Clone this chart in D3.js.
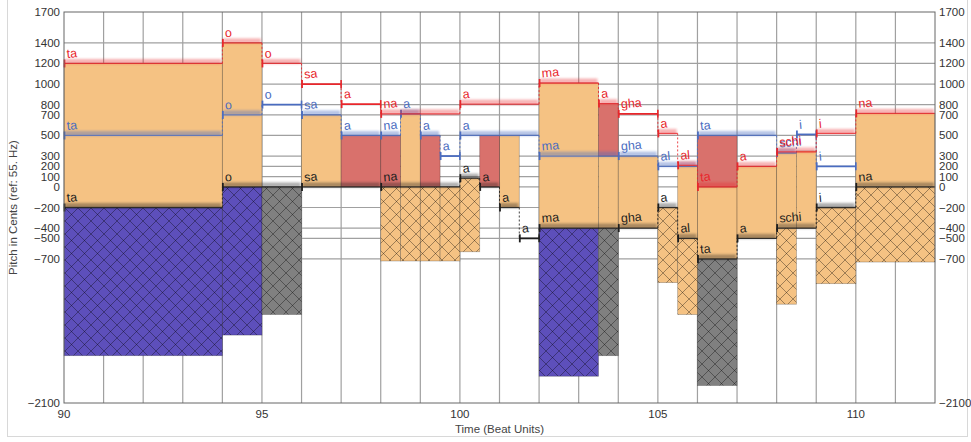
<!DOCTYPE html>
<html><head><meta charset="utf-8">
<script src="https://cdn.jsdelivr.net/npm/d3@7/dist/d3.min.js"></script>
<style>body{margin:0;background:#fff}svg{display:block;font-family:"Liberation Sans",Arial,sans-serif}</style>
</head><body>
<svg id="c" width="971" height="442"></svg>
<script>
// ---- data ----
const xTicks = [90, 95, 100, 105, 110];
const yTicks = [1700, 1400, 1200, 1000, 800, 700, 500, 300, 200, 100, 0, -200, -400, -500, -700, -2100];
// tiers: [start, end, level, syllable, style]
const redTier = [
  [90,94,1200,"ta","soft"],[94,95,1400,"o","soft"],[95,96,1200,"o","soft"],[96,97,1000,"sa","solid"],
  [97,98,805,"a","solid"],[98,100,710,"na","soft"],[100,102,805,"a","soft"],[102,103.5,1010,"ma","soft"],
  [103.5,104,810,"a","soft"],[104,105,710,"gha","solid"],[105,105.5,520,"a","soft"],[105.5,106,210,"al","soft"],
  [106,107,0,"ta","soft"],[107,108,200,"a","soft"],[108,109,340,"schi","soft"],[109,110,520,"i","soft"],
  [110,112,715,"na","soft"]
];
const blueTier = [
  [90,94,500,"ta","soft"],[94,95,700,"o","soft"],[95,96,800,"o","solid"],[96,97,700,"sa","soft"],
  [97,98,500,"a","soft"],[98,98.5,500,"na","soft"],[98.5,99,710,"a","soft"],[99,99.5,500,"a","soft"],
  [99.5,100,300,"a","solid"],[100,102,500,"a","soft"],[102,104,300,"ma","soft"],[104,105,300,"gha","soft"],
  [105,106,200,"al","soft"],[106,108,500,"ta","soft"],[108,108.5,330,"schi","soft"],[108.5,109,510,"i","solid"],
  [109,110,200,"i","solid"]
];
const blackTier = [
  [90,94,-200,"ta","soft"],[94,96,0,"o","soft"],[96,98,0,"sa","soft"],[98,100,0,"na","soft"],
  [100,100.5,85,"a","soft"],[100.5,101,0,"a","soft"],[101,101.5,-200,"a","soft"],[101.5,102,-500,"a","solid"],
  [102,104,-400,"ma","soft"],[104,105,-400,"gha","soft"],[105,105.5,-200,"a","soft"],[105.5,106,-500,"al","soft"],
  [106,107,-700,"ta","soft"],[107,108,-500,"a","soft"],[108,109,-400,"schi","soft"],[109,110,-200,"i","soft"],
  [110,112,0,"na","soft"]
];
// fills: [start, end, low, high]
const orangeFills = [
  [90,94,-200,1200],[94,95,0,1400],[96,97,0,700],[98.5,99,0,710],[101,101.5,-200,500],
  [102,103.5,-400,1010],[103.5,104,-400,300],[104,105,-400,300],[105.5,106,-500,200],[106,107,-700,0],
  [107,108,-500,200],[108,108.5,-400,330],[108.5,109,-400,350],[110,112,0,715]
];
const redFills = [[97,98,0,500],[98,98.5,0,500],[99,99.5,0,500],[100.5,101,0,500],[103.5,104,300,810],[106,107,0,500]];
// hatched: [start, end, low, high]
const purpleHatch = [[90,94,-1640,-200],[94,95,-1440,0],[102,103.5,-1840,-400]];
const grayHatch = [[95,96,-1240,0],[103.5,104,-1640,-400],[106,107,-1930,-700]];
const orangeHatch = [
  [98,98.5,-720,0],[98.5,99,-720,0],[99,99.5,-720,0],[99.5,100,-720,0],[100,100.5,-630,85],
  [105,105.5,-930,-200],[105.5,106,-1240,-500],[108,108.5,-1140,-400],[109,110,-940,-200],[110,112,-730,0]
];

// ---- drawing ----
const svg = d3.select("#c");
const x = d3.scaleLinear().domain([90,112]).range([64,935]);
const y = d3.scaleLinear().domain([-2100,1700]).range([403,12]);
const C = {red:"#e8262b", blue:"#4a6cc0", black:"#1e1e1e", orange:"#f5c283", redFill:"#d9716c", purple:"#5d4fbb", gray:"#808080"};

const defs = svg.append("defs");
function hatch(id, bg){
  const p = defs.append("pattern").attr("id",id).attr("patternUnits","userSpaceOnUse")
    .attr("width",13).attr("height",13);
  p.append("rect").attr("width",13).attr("height",13).attr("fill",bg);
  p.append("path").attr("d","M0,0L13,13M13,0L0,13M-1,12L1,14M12,-1L14,1")
    .attr("stroke","rgba(0,0,0,0.45)").attr("stroke-width",0.8).attr("fill","none");
}
hatch("hp", C.purple); hatch("hg", C.gray); hatch("ho", C.orange);
defs.append("filter").attr("id","blur").attr("filterUnits","userSpaceOnUse")
  .attr("x",0).attr("y",0).attr("width",971).attr("height",442)
  .append("feGaussianBlur").attr("stdDeviation",1.3);

// outer frame
svg.append("rect").attr("x",7.5).attr("y",-1).attr("width",960).attr("height",437.5)
  .attr("fill","none").attr("stroke","#d8d8d8");

// grid
const g = svg.append("g");
g.selectAll(".vg").data(d3.range(91,112)).join("line")
  .attr("x1",d=>x(d)).attr("x2",d=>x(d)).attr("y1",y(1700)).attr("y2",y(-2100))
  .attr("stroke","#a0a0a0").attr("stroke-width",1.2);
g.selectAll(".hg").data(yTicks.filter(d=>d!==1700&&d!==-2100)).join("line")
  .attr("x1",x(90)).attr("x2",x(112)).attr("y1",d=>y(d)).attr("y2",d=>y(d))
  .attr("stroke","#a0a0a0").attr("stroke-width",1.2);

function rects(data, fill){
  svg.append("g").selectAll("rect").data(data).join("rect")
    .attr("x",d=>x(d[0])).attr("width",d=>x(d[1])-x(d[0]))
    .attr("y",d=>y(d[3])).attr("height",d=>y(d[2])-y(d[3]))
    .attr("fill",fill).attr("stroke","rgba(0,0,0,0.28)").attr("stroke-width",0.8);
}
rects(purpleHatch,"url(#hp)");
rects(grayHatch,"url(#hg)");
rects(orangeHatch,"url(#ho)");
rects(orangeFills,C.orange);
rects(redFills,C.redFill);

// tier lines
function tier(data, color, bandOp){
  const tg = svg.append("g");
  for(let i=0;i<data.length-1;i++){
    const a=data[i], b=data[i+1];
    if(a[1]===b[0] && a[2]!==b[2]){
      tg.append("line").attr("x1",x(a[1])).attr("x2",x(a[1])).attr("y1",y(a[2])).attr("y2",y(b[2]))
        .attr("stroke",color).attr("stroke-width",1).attr("stroke-dasharray","2,2").attr("opacity",0.85);
    }
  }
  const soft = data.filter(d=>d[4]==="soft");
  tg.selectAll(".sb").data(soft).join("rect")
    .attr("x",d=>x(d[0])+1).attr("width",d=>x(d[1])-x(d[0])-2)
    .attr("y",d=>y(d[2])-4.5).attr("height",5)
    .attr("fill",color).attr("opacity",bandOp).attr("filter","url(#blur)");
  tg.selectAll(".sl").data(soft).join("line")
    .attr("x1",d=>x(d[0])).attr("x2",d=>x(d[1])).attr("y1",d=>y(d[2])).attr("y2",d=>y(d[2]))
    .attr("stroke",color).attr("stroke-width",1.3).attr("opacity",0.8);
  const solid = data.filter(d=>d[4]==="solid");
  tg.selectAll(".hl").data(solid).join("line")
    .attr("x1",d=>x(d[0])).attr("x2",d=>x(d[1])).attr("y1",d=>y(d[2])).attr("y2",d=>y(d[2]))
    .attr("stroke",color).attr("stroke-width",1.8);
  tg.selectAll(".et").data(solid).join("line")
    .attr("x1",d=>x(d[1])).attr("x2",d=>x(d[1])).attr("y1",d=>y(d[2])-4).attr("y2",d=>y(d[2])+4)
    .attr("stroke",color).attr("stroke-width",1.6);
  tg.selectAll(".st").data(data).join("line")
    .attr("x1",d=>x(d[0])+0.5).attr("x2",d=>x(d[0])+0.5).attr("y1",d=>y(d[2])-4).attr("y2",d=>y(d[2])+4)
    .attr("stroke",color).attr("stroke-width",1.8);
  tg.selectAll("text").data(data).join("text")
    .attr("transform",d=>`translate(${x(d[0])+3},${y(d[2])-5.5}) rotate(-5)`)
    .attr("font-size",12.5).attr("fill",color).text(d=>d[3]);
}
tier(blackTier, C.black, 0.35);
tier(blueTier, C.blue, 0.4);
tier(redTier, C.red, 0.35);

// frame
svg.append("rect").attr("x",x(90)).attr("y",y(1700)).attr("width",x(112)-x(90)).attr("height",y(-2100)-y(1700))
  .attr("fill","none").attr("stroke","#666").attr("stroke-width",1);

// axes labels
const ax = svg.append("g").attr("font-size",11.5).attr("fill","#333");
ax.selectAll(".yl").data(yTicks).join("text").attr("x",60).attr("y",d=>y(d)).attr("dy","0.35em")
  .attr("text-anchor","end").text(d=>d<0?"\u2212"+(-d):d);
ax.selectAll(".yr").data(yTicks).join("text").attr("x",939).attr("y",d=>y(d)).attr("dy","0.35em")
  .attr("text-anchor","start").text(d=>d<0?"\u2212"+(-d):d);
ax.selectAll(".xl").data(xTicks).join("text").attr("x",d=>x(d)).attr("y",418)
  .attr("text-anchor","middle").text(d=>d);
svg.append("text").attr("x",(x(90)+x(112))/2).attr("y",433).attr("text-anchor","middle")
  .attr("font-size",11.5).attr("fill","#444").text("Time (Beat Units)");
svg.append("text").attr("transform",`translate(17,${(y(1700)+y(-2100))/2}) rotate(-90)`).attr("text-anchor","middle")
  .attr("font-size",11.5).attr("fill","#444").text("Pitch in Cents (ref: 55. Hz)");
</script>
</body></html>
